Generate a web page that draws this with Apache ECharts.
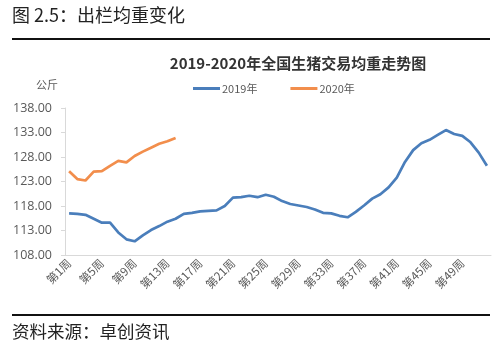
<!DOCTYPE html>
<html><head><meta charset="utf-8">
<script src="https://cdn.jsdelivr.net/npm/echarts@6/dist/echarts.min.js"></script>
<style>html,body{margin:0;padding:0;background:#fff}#c{width:500px;height:350px}</style>
</head><body><div id="c"></div>
<script>
var weeks = [];
for (var i = 1; i <= 52; i++) weeks.push('第' + i + '周');
var s2019 = [116.5,116.4,116.2,115.4,114.6,114.6,112.6,111.2,110.8,112.0,113.1,113.9,114.8,115.4,116.4,116.6,116.9,117.0,117.1,118.0,119.7,119.8,120.1,119.8,120.3,119.9,119.0,118.4,118.1,117.8,117.3,116.6,116.5,116.0,115.7,116.8,118.1,119.5,120.4,121.8,123.8,127.0,129.4,130.8,131.5,132.5,133.5,132.7,132.3,131.0,128.9,126.2];
var s2020 = [125.1,123.5,123.2,125.0,125.1,126.2,127.2,126.9,128.2,129.1,129.9,130.7,131.2,131.9];
var yMin = 108, yMax = 138, yStep = 5;
var cjk = '"Noto Sans CJK SC", sans-serif';
var chart = echarts.init(document.getElementById('c'));
chart.setOption({
  animation: false,
  backgroundColor: '#fff',
  title: {
    text: '2019-2020年全国生猪交易均重走势图',
    left: 293, top: 51, textAlign: 'center',
    textStyle: {fontFamily: cjk, fontSize: 15, fontWeight: 'bold', color: '#333'}
  },
  legend: {
    top: 78, left: 188, itemGap: 33, itemWidth: 27, itemHeight: 3, icon: 'rect',
    textStyle: {fontFamily: cjk, fontSize: 11, color: '#595959', padding: [0,0,0,-3]},
    data: ['2019年', '2020年']
  },
  grid: {left: 65, right: 9, top: 108, bottom: 95, containLabel: false},
  xAxis: {
    type: 'category', data: weeks, boundaryGap: true,
    axisLine: {lineStyle: {color: '#d9d9d9'}},
    axisTick: {interval: 2, length: 4, lineStyle: {color: '#d9d9d9'}},
    axisLabel: {interval: 3, rotate: 45, fontFamily: cjk, fontSize: 11.5, color: '#595959', margin: 6}
  },
  yAxis: {
    type: 'value', min: yMin, max: yMax, interval: yStep,
    name: '公斤', nameLocation: 'end', nameGap: 18,
    nameTextStyle: {fontFamily: cjk, fontSize: 11, color: '#595959', align: 'right', padding: [0, 7, 0, 0]},
    axisLine: {show: true, lineStyle: {color: '#d9d9d9'}},
    axisTick: {show: true, length: 4, lineStyle: {color: '#d9d9d9'}},
    splitLine: {show: false},
    axisLabel: {formatter: function(v){return v.toFixed(2);}, fontFamily: 'Open Sans, sans-serif', fontSize: 12.5, color: '#595959', margin: 13}
  },
  series: [
    {name: '2019年', type: 'line', data: s2019, symbol: 'none', smooth: false,
     itemStyle: {color: '#4a7ebb'}, lineStyle: {width: 2.7, color: '#4a7ebb'}},
    {name: '2020年', type: 'line', data: s2020, symbol: 'none',
     itemStyle: {color: '#f28e4c'}, lineStyle: {width: 2.7, color: '#f28e4c'}}
  ],
  graphic: [
    {type: 'text', left: 12, top: 6, style: {text: '图 2.5：出栏均重变化', font: '18px "Noto Sans CJK SC"', fill: '#222'}},
    {type: 'rect', shape: {x: 12, y: 38, width: 478, height: 2}, style: {fill: '#111'}},
    {type: 'rect', shape: {x: 12, y: 314, width: 478, height: 2}, style: {fill: '#111'}},
    {type: 'text', left: 12, top: 323, style: {text: '资料来源：卓创资讯', font: '17.5px "Noto Sans CJK SC"', fill: '#222'}}
  ]
});
</script></body></html>
